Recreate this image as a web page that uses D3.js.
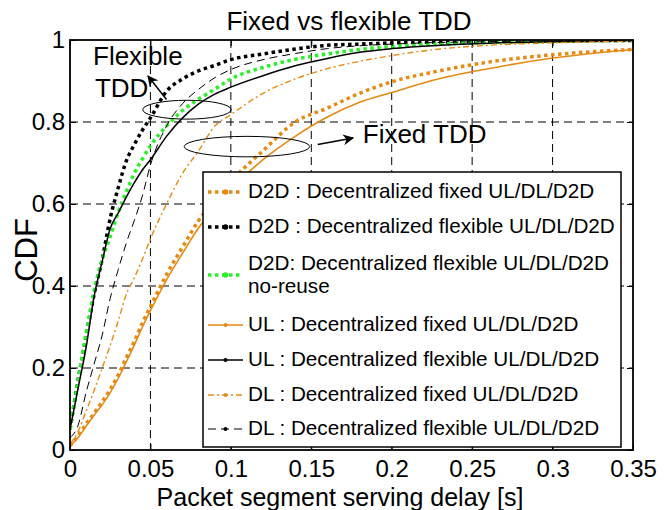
<!DOCTYPE html>
<html>
<head>
<meta charset="utf-8">
<script src="https://cdn.jsdelivr.net/npm/d3@7"></script>
<style>
  body { margin: 0; background: #fff; }
  svg { font-family: "Liberation Sans", Arial, sans-serif; }
</style>
</head>
<body>
<div id="chart"></div>
<script>
// packet segment serving delay [s], common sample grid for every curve
const delays = [0, 0.005, 0.01, 0.015, 0.02, 0.025, 0.03, 0.035, 0.04, 0.045, 0.05, 0.06, 0.07,
    0.08, 0.09, 0.1, 0.12, 0.14, 0.16, 0.18, 0.2, 0.23, 0.26, 0.3, 0.35];

// CDF values
const d2dFixed = [0.01, 0.035, 0.063, 0.09, 0.118, 0.148, 0.183, 0.225, 0.265, 0.31, 0.35, 0.428, 0.495,
    0.56, 0.61, 0.655, 0.73, 0.8, 0.834, 0.87, 0.898, 0.925, 0.946, 0.964, 0.977];
const d2dFlexible = [0.05, 0.17, 0.275, 0.38, 0.465, 0.565, 0.64, 0.705, 0.745, 0.78, 0.81, 0.875, 0.905,
    0.925, 0.938, 0.952, 0.966, 0.978, 0.987, 0.99, 0.993, 0.995, 0.997, 0.998, 0.999];
const d2dNoReuse = [0.05, 0.17, 0.285, 0.39, 0.465, 0.52, 0.58, 0.63, 0.675, 0.71, 0.742, 0.79, 0.828,
    0.856, 0.88, 0.905, 0.933, 0.953, 0.966, 0.977, 0.984, 0.99, 0.994, 0.997, 0.999];
const ulFixed = [0.01, 0.03, 0.058, 0.085, 0.11, 0.14, 0.175, 0.215, 0.256, 0.3, 0.34, 0.415, 0.48,
    0.542, 0.59, 0.635, 0.708, 0.765, 0.812, 0.848, 0.872, 0.906, 0.93, 0.956, 0.977];
const ulFlexible = [0.05, 0.15, 0.25, 0.375, 0.46, 0.54, 0.578, 0.617, 0.652, 0.683, 0.708, 0.765, 0.81,
    0.844, 0.868, 0.885, 0.913, 0.937, 0.955, 0.97, 0.979, 0.987, 0.992, 0.996, 0.998];
const dlFixed = [0.015, 0.045, 0.095, 0.145, 0.2, 0.255, 0.315, 0.38, 0.42, 0.465, 0.515, 0.6, 0.675,
    0.73, 0.79, 0.818, 0.87, 0.905, 0.93, 0.948, 0.962, 0.978, 0.987, 0.993, 0.997];
const dlFlexible = [0.03, 0.06, 0.14, 0.21, 0.28, 0.37, 0.44, 0.505, 0.56, 0.62, 0.695, 0.79, 0.845,
    0.88, 0.908, 0.928, 0.952, 0.967, 0.979, 0.986, 0.99, 0.994, 0.996, 0.998, 0.999];

const seriesNames = [
    'D2D : Decentralized fixed UL/DL/D2D',
    'D2D : Decentralized flexible UL/DL/D2D',
    'D2D: Decentralized flexible UL/DL/D2D',
    'UL : Decentralized fixed UL/DL/D2D',
    'UL : Decentralized flexible UL/DL/D2D',
    'DL : Decentralized fixed UL/DL/D2D',
    'DL : Decentralized flexible UL/DL/D2D'
];
const xTicks = [0, 0.05, 0.1, 0.15, 0.2, 0.25, 0.3, 0.35];
const yTicks = [0, 0.2, 0.4, 0.6, 0.8, 1];

const orange = '#e68a14';
const green = '#2af02a';

const series = [
    { name: seriesNames[0], values: d2dFixed, color: orange, width: 3.5, dash: '3.5,3.5' },
    { name: seriesNames[1], values: d2dFlexible, color: '#000', width: 3.5, dash: '3.5,3.5' },
    { name: seriesNames[2], extra: 'no-reuse', values: d2dNoReuse, color: green, width: 3.5, dash: '3.5,3.5' },
    { name: seriesNames[3], values: ulFixed, color: orange, width: 1.6, dash: null },
    { name: seriesNames[4], values: ulFlexible, color: '#000', width: 1.5, dash: null },
    { name: seriesNames[5], values: dlFixed, color: orange, width: 1.4, dash: '6,3,2,3' },
    { name: seriesNames[6], values: dlFlexible, color: '#000', width: 1, dash: '8,5' }
];

const W = 664, H = 510;
const margin = { top: 40, right: 31, bottom: 60, left: 70 };
const width = W - margin.left - margin.right;
const height = H - margin.top - margin.bottom;

const svgRoot = d3.select('#chart').append('svg')
    .attr('width', W)
    .attr('height', H);

const svg = svgRoot.append('g')
    .attr('transform', `translate(${margin.left},${margin.top})`);

const x = d3.scaleLinear().domain([0, 0.35]).range([0, width]);
const y = d3.scaleLinear().domain([0, 1]).range([height, 0]);

svgRoot.append('defs').append('clipPath').attr('id', 'plotclip')
    .append('rect').attr('width', width).attr('height', height);

// dashed grid
svg.append('g').selectAll('line.gx')
    .data(xTicks.slice(1, -1))
    .enter().append('line')
    .attr('x1', d => x(d)).attr('x2', d => x(d))
    .attr('y1', 0).attr('y2', height)
    .style('stroke', '#000').style('stroke-width', 1).style('stroke-dasharray', '8,5');
svg.append('g').selectAll('line.gy')
    .data(yTicks.slice(1, -1))
    .enter().append('line')
    .attr('x1', 0).attr('x2', width)
    .attr('y1', d => y(d)).attr('y2', d => y(d))
    .style('stroke', '#000').style('stroke-width', 1).style('stroke-dasharray', '8,5');

// curves
const line = d3.line()
    .x((d, i) => x(delays[i]))
    .y(d => y(d))
    .curve(d3.curveMonotoneX);

const curves = svg.append('g').attr('clip-path', 'url(#plotclip)');
series.forEach(s => {
    curves.append('path')
        .datum(s.values)
        .attr('d', line)
        .style('fill', 'none')
        .style('stroke', s.color)
        .style('stroke-width', s.width)
        .style('stroke-dasharray', s.dash);
});

// axes (ticks pointing inwards, matlab style)
svg.append('g')
    .attr('transform', `translate(0,${height})`)
    .call(d3.axisBottom(x).tickValues(xTicks).tickFormat(d3.format('~g')).tickSizeInner(-6).tickSizeOuter(0).tickPadding(10));
svg.append('g')
    .call(d3.axisLeft(y).tickValues(yTicks).tickFormat(d3.format('~g')).tickSizeInner(-6).tickSizeOuter(0).tickPadding(5));
svg.append('g')
    .call(d3.axisTop(x).tickValues(xTicks).tickFormat('').tickSizeInner(-6).tickSizeOuter(0));
svg.append('g')
    .attr('transform', `translate(${width},0)`)
    .call(d3.axisRight(y).tickValues(yTicks).tickFormat('').tickSizeInner(-6).tickSizeOuter(0));

svg.selectAll('.tick text').style('font-size', '24px').style('fill', '#000');
svg.selectAll('.tick line').style('stroke', '#000');
svg.selectAll('.domain').remove();

svg.append('rect')
    .attr('width', width).attr('height', height)
    .style('fill', 'none').style('stroke', '#000').style('stroke-width', 1.8);

// annotations
const defs = svgRoot.select('defs');
defs.append('marker')
    .attr('id', 'arrow')
    .attr('viewBox', '0 0 10 10')
    .attr('refX', 9).attr('refY', 5)
    .attr('markerWidth', 11).attr('markerHeight', 11)
    .attr('markerUnits', 'userSpaceOnUse')
    .attr('orient', 'auto')
    .append('path').attr('d', 'M0,0 L10,5 L0,10 L3,5 z').style('fill', '#000');

const ellipses = [
    { cx: 0.0727, cy: 0.83, rx: 0.0275, ry: 0.023 },
    { cx: 0.11, cy: 0.74, rx: 0.039, ry: 0.025 }
];
svg.selectAll('ellipse.note')
    .data(ellipses)
    .enter().append('ellipse')
    .attr('cx', d => x(d.cx)).attr('cy', d => y(d.cy))
    .attr('rx', d => x(d.rx) - x(0)).attr('ry', d => y(0) - y(d.ry))
    .style('fill', 'none').style('stroke', '#000').style('stroke-width', 1);

const arrows = [
    { x1: 0.060, y1: 0.855, x2: 0.0485, y2: 0.912 },
    { x1: 0.154, y1: 0.745, x2: 0.176, y2: 0.761 }
];
svg.selectAll('line.arrow')
    .data(arrows)
    .enter().append('line')
    .attr('x1', d => x(d.x1)).attr('y1', d => y(d.y1))
    .attr('x2', d => x(d.x2)).attr('y2', d => y(d.y2))
    .style('stroke', '#000').style('stroke-width', 1.5)
    .attr('marker-end', 'url(#arrow)');

const notes = [
    { t: 'Flexible', x: 0.0143, y: 0.94 },
    { t: 'TDD', x: 0.0155, y: 0.862 },
    { t: 'Fixed TDD', x: 0.182, y: 0.749 }
];
svg.selectAll('text.note')
    .data(notes)
    .enter().append('text')
    .attr('x', d => x(d.x)).attr('y', d => y(d.y))
    .style('font-size', '26px')
    .text(d => d.t);

// legend
const lg = svgRoot.append('g').attr('transform', 'translate(203,172)');
lg.append('rect')
    .attr('width', 418).attr('height', 275)
    .style('fill', '#fff').style('stroke', '#000').style('stroke-width', 1.5);

const rowY = [20, 55, 103, 153, 188, 223, 257];
series.forEach((s, i) => {
    const row = lg.append('g').attr('transform', `translate(0,${rowY[i]})`);
    row.append('line')
        .attr('x1', 5).attr('x2', 40)
        .style('stroke', s.color)
        .style('stroke-width', s.width)
        .style('stroke-dasharray', s.dash);
    row.append('circle')
        .attr('cx', 22.5).attr('r', s.width > 2 ? 2.8 : 2)
        .style('fill', s.color);
    const ty = s.extra ? -5 : 6;
    row.append('text')
        .attr('x', 45).attr('y', ty)
        .style('font-size', '20.7px')
        .text(s.name);
    if (s.extra) {
        row.append('text')
            .attr('x', 45).attr('y', ty + 23)
            .style('font-size', '20.7px')
            .text(s.extra);
    }
});

// titles
svgRoot.append('text')
    .attr('x', 349).attr('y', 30)
    .attr('text-anchor', 'middle')
    .style('font-size', '26px')
    .text('Fixed vs flexible TDD');

svgRoot.append('text')
    .attr('x', 340).attr('y', 506)
    .attr('text-anchor', 'middle')
    .style('font-size', '25px')
    .text('Packet segment serving delay [s]');

svgRoot.append('text')
    .attr('transform', 'translate(37,250) rotate(-90)')
    .attr('text-anchor', 'middle')
    .style('font-size', '31px')
    .text('CDF');
</script>
</body>
</html>
